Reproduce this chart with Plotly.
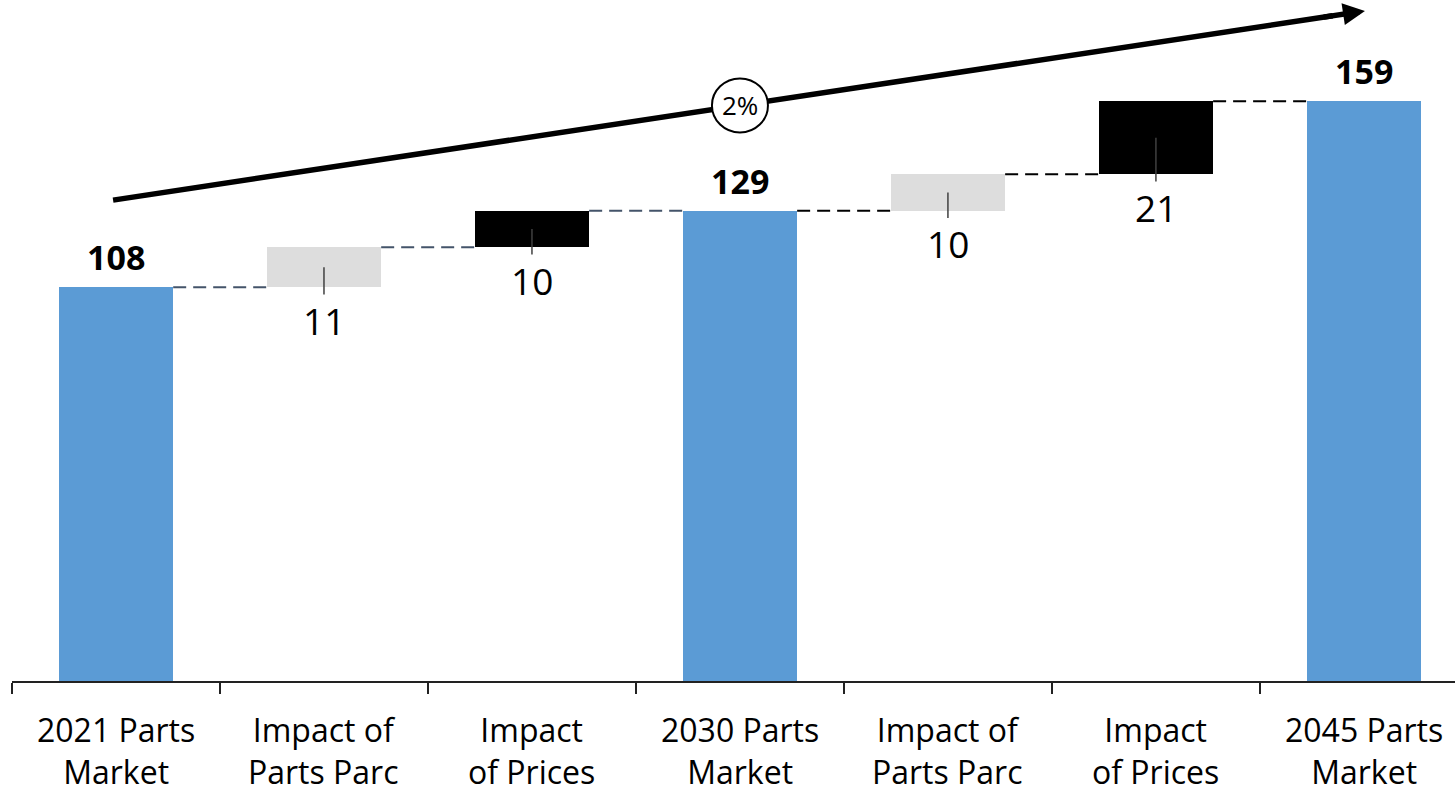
import plotly.graph_objects as go

# ---- data ----
categories = ["2021 Parts<br>Market", "Impact of<br>Parts Parc", "Impact<br>of Prices",
              "2030 Parts<br>Market", "Impact of<br>Parts Parc", "Impact<br>of Prices",
              "2045 Parts<br>Market"]
kinds = ["total", "parc", "price", "total", "parc", "price", "total"]
totals = [108, 129, 159]
deltas = [11, 10, 10, 21]
cagr_label = "2%"

# ---- style ----
FONT = "Open Sans"
BLUE = "#5B9BD5"
GREY = "#DDDDDD"
BLACK = "#000000"
SLATE = "#44546A"
BAR_W = 0.55
colors = {"total": BLUE, "parc": GREY, "price": BLACK}

# compute bar bases / tops (the last impact of a block ends on the next total)
bases, tops, labels = [], [], []
ti, di = 0, 0
level = None
for i, k in enumerate(kinds):
    if k == "total":
        bases.append(0)
        tops.append(totals[ti])
        labels.append(totals[ti])
        level = totals[ti]
        ti += 1
    else:
        d = deltas[di]
        di += 1
        end = level + d
        if i + 1 < len(kinds) and kinds[i + 1] == "total":
            end = totals[ti]
        bases.append(level)
        tops.append(end)
        labels.append(d)
        level = end

xs = list(range(len(categories)))
fig = go.Figure()
fig.add_trace(go.Bar(
    x=xs, y=[t - b for t, b in zip(tops, bases)], base=bases, width=BAR_W,
    marker=dict(color=[colors[k] for k in kinds], line=dict(width=0)),
    hoverinfo="skip", showlegend=False,
))

shapes = []
annotations = []

# connectors
for i in range(len(xs) - 1):
    lvl = tops[i]
    col = SLATE if i < 3 else BLACK
    shapes.append(dict(type="line", xref="x", yref="y",
                       x0=xs[i] + BAR_W / 2, x1=xs[i + 1] - BAR_W / 2, y0=lvl, y1=lvl,
                       line=dict(color=col, width=2, dash="13px,7px"), layer="above"))

# labels and leader ticks
for i, k in enumerate(kinds):
    if k == "total":
        annotations.append(dict(x=xs[i], y=tops[i], xref="x", yref="y", text=f"<b>{labels[i]}</b>",
                                showarrow=False, yanchor="middle", yshift=30,
                                font=dict(family=FONT, size=34, color="#000")))
    else:
        mid = (bases[i] + tops[i]) / 2
        shapes.append(dict(type="line", xref="x", yref="y", x0=xs[i], x1=xs[i],
                           y0=mid, y1=bases[i] - 2, line=dict(color="#404040", width=1.5),
                           layer="above"))
        annotations.append(dict(x=xs[i], y=bases[i], xref="x", yref="y", text=str(labels[i]),
                                showarrow=False, yanchor="middle", yshift=-33,
                                font=dict(family=FONT, size=37, color="#000")))

# category labels
for i, c in enumerate(categories):
    annotations.append(dict(x=xs[i], y=0, xref="x", yref="paper", text=c, showarrow=False,
                            yanchor="middle", yshift=-69,
                            font=dict(family=FONT, size=32, color="#000")))

# CAGR arrow: line shape + short annotation arrow for the head, circle on top
ax0, ay0 = -0.014, 131.9
ax1, ay1 = 6.005, 183.8
def on_arrow(x):
    return ay0 + (x - ax0) / (ax1 - ax0) * (ay1 - ay0)
head_from = 5.8
shapes.append(dict(type="line", xref="x", yref="y", x0=ax0, y0=ay0, x1=head_from + 0.05,
                   y1=on_arrow(head_from + 0.05), line=dict(color="#000", width=5.5),
                   layer="above"))
annotations.append(dict(x=ax1, y=ay1, ax=head_from, ay=on_arrow(head_from), xref="x", yref="y",
                        axref="x", ayref="y", text="", showarrow=True, arrowhead=2,
                        arrowsize=0.8, arrowwidth=5.5, arrowcolor="#000",
                        standoff=0, startstandoff=0))
cx = 3.0
cy = on_arrow(cx)
shapes.append(dict(type="circle", xref="x", yref="y", xsizemode="pixel", ysizemode="pixel",
                   xanchor=cx, yanchor=cy, x0=-28, x1=28, y0=-27, y1=27,
                   fillcolor="white", line=dict(color="#000", width=2), layer="above"))
annotations.append(dict(x=cx, y=cy, xref="x", yref="y", text=cagr_label, showarrow=False,
                        yanchor="middle", xanchor="center",
                        font=dict(family=FONT, size=26, color="#000")))

fig.update_layout(
    width=1455, height=790,
    margin=dict(l=12, r=0, t=0, b=109),
    paper_bgcolor="white", plot_bgcolor="white",
    shapes=shapes, annotations=annotations,
    bargap=0,
    xaxis=dict(range=[-0.5, 6.438], showgrid=False, zeroline=False, showline=True,
               linecolor="#222", linewidth=2, ticks="outside", ticklen=11, tickwidth=2,
               tickcolor="#222", tickmode="array",
               tickvals=[i - 0.5 for i in range(len(categories) + 1)],
               showticklabels=False, fixedrange=True),
    yaxis=dict(range=[0, 186.8], visible=False, fixedrange=True),
    font=dict(family=FONT),
)

fig.write_html("out.html", config={"displayModeBar": False})
